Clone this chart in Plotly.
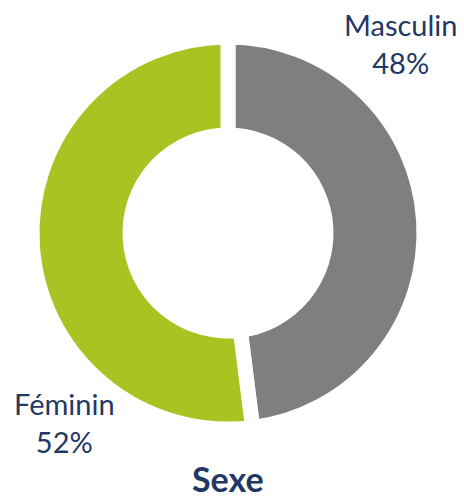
import plotly.graph_objects as go

labels = ["Masculin", "Féminin"]
values = [48, 52]
colors = ["#7F7F7F", "#A9C323"]
title_text = "Sexe"

W, H = 464, 498
cx, cy = 228, 233
R = 196

fig = go.Figure(go.Pie(
    labels=labels, values=values, sort=False, direction="clockwise", rotation=0,
    hole=0.5, textinfo="none", hoverinfo="label+percent",
    marker=dict(colors=colors, line=dict(color="white", width=15)),
    domain=dict(x=[(cx - R) / W, (cx + R) / W], y=[(H - cy - R) / H, (H - cy + R) / H]),
    showlegend=False,
))

navy = "#1F3864"
font = dict(family="Lato, Open Sans, sans-serif", size=29, color=navy)
pos = [(400, 44), (64, 422)]
total = sum(values)
for lab, v, (x, y) in zip(labels, values, pos):
    fig.add_annotation(x=x / W, y=1 - y / H, xref="paper", yref="paper",
                       text=f"{lab}<br>{round(100 * v / total)}%", showarrow=False,
                       font=font, align="center", xanchor="center", yanchor="middle")

fig.add_annotation(x=228 / W, y=1 - 478 / H, xref="paper", yref="paper",
                   text=f"<b>{title_text}</b>", showarrow=False,
                   font=dict(family="Lato, Open Sans, sans-serif", size=34, color=navy),
                   xanchor="center", yanchor="middle")

fig.update_layout(width=W, height=H, margin=dict(l=0, r=0, t=0, b=0),
                  paper_bgcolor="white", plot_bgcolor="white")
fig.write_html("out.html")
